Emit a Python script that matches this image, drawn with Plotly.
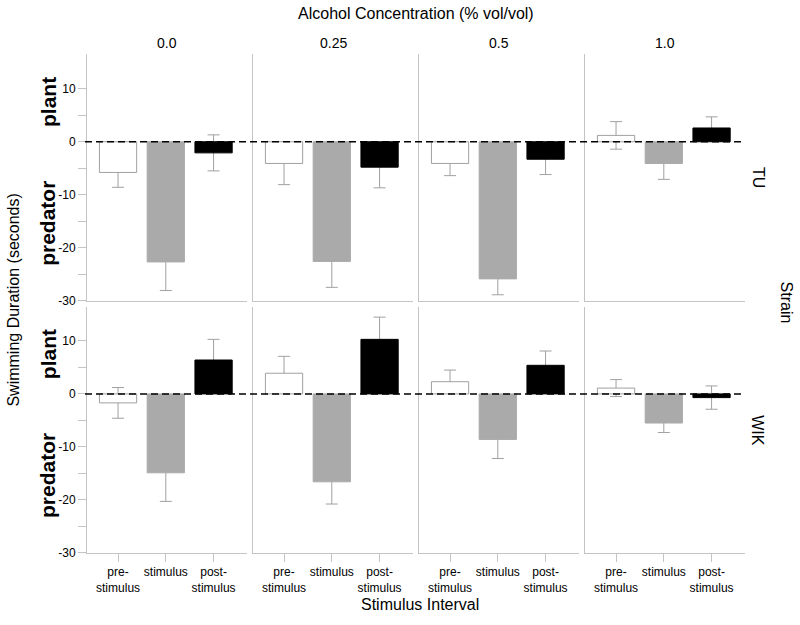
import plotly.graph_objects as go
from plotly.subplots import make_subplots

# ---- data ----
concentrations = ["0.0", "0.25", "0.5", "1.0"]
intervals = ["pre-<br>stimulus", "stimulus", "post-<br>stimulus"]
strains = ["TU", "WIK"]

tu_means = [[-5.8, -22.7, -2.1], [-4.1, -22.6, -4.8], [-4.1, -25.9, -3.3], [1.2, -4.1, 2.6]]
tu_errors = [[2.8, 5.4, 3.4], [4.0, 4.9, 3.9], [2.3, 3.0, 2.9], [2.6, 3.0, 2.1]]
wik_means = [[-1.7, -14.9, 6.4], [3.9, -16.6, 10.3], [2.3, -8.6, 5.4], [1.1, -5.5, -0.7]]
wik_errors = [[2.9, 5.4, 3.9], [3.2, 4.2, 4.2], [2.2, 3.6, 2.7], [1.6, 1.8, 2.2]]

y_tickvals = [10, 5, 0, -5, -10, -15, -20, -25, -30]
y_ticktext = ["10", "", "0", "", "-10", "", "-20", "", "-30"]

means = [tu_means, wik_means]
errors = [tu_errors, wik_errors]

# ---- style ----
W, H = 800, 625
FONT = "Liberation Sans, Arial, Helvetica, sans-serif"
AXIS_GRAY = "#c4c4c4"
ERR_GRAY = "#a0a0a0"
fills = ["white", "#aaaaaa", "black"]
outlines = ["#a0a0a0", "#aaaaaa", "black"]
col_left_px = [87, 253, 419, 585]
panel_w_px = 160
row_px = [(55, 304), (310, 559)]

fig = make_subplots(rows=2, cols=4)
xpos = list(range(len(intervals)))

for r in range(2):
    for c in range(4):
        vals = means[r][c]
        errs = errors[r][c]
        # error bars drawn first so that the opaque bars hide their inner part
        fig.add_trace(go.Bar(
            x=xpos, y=vals, width=0.78,
            marker=dict(color="rgba(0,0,0,0)", line=dict(width=0)),
            error_y=dict(type="data", array=errs, visible=True,
                         color=ERR_GRAY, thickness=1, width=6),
            showlegend=False, hoverinfo="skip"), row=r + 1, col=c + 1)
        fig.add_trace(go.Bar(
            x=xpos, y=vals, width=0.78,
            marker=dict(color=fills, line=dict(color=outlines, width=1)),
            showlegend=False), row=r + 1, col=c + 1)

for r in range(2):
    for c in range(4):
        i = r * 4 + c + 1
        L = col_left_px[c]
        top, bot = row_px[r]
        xa = dict(domain=[L / W, (L + panel_w_px) / W], range=[-0.65, 2.7],
                  showline=True, linecolor=AXIS_GRAY, linewidth=1,
                  showgrid=False, zeroline=False, fixedrange=True)
        if r == 1:
            xa.update(tickmode="array", tickvals=xpos, ticktext=intervals,
                      ticks="outside", ticklen=8, tickcolor=AXIS_GRAY,
                      tickfont=dict(size=12, color="black", family=FONT))
        else:
            xa.update(showticklabels=False, ticks="")
        ya = dict(domain=[1 - bot / H, 1 - top / H], range=[-30, 16.5],
                  showline=True, linecolor=AXIS_GRAY, linewidth=1,
                  showgrid=False, zeroline=False, fixedrange=True)
        if c == 0:
            ya.update(tickmode="array", tickvals=y_tickvals, ticktext=y_ticktext,
                      ticks="outside", ticklen=8, tickcolor=AXIS_GRAY,
                      tickfont=dict(size=12, color="black", family=FONT))
        else:
            ya.update(showticklabels=False, ticks="")
        fig.layout[f"xaxis{i}"].update(xa)
        fig.layout[f"yaxis{i}"].update(ya)

shapes = []
annotations = []
for r in range(2):
    yref = "y" if r == 0 else "y5"
    shapes.append(dict(type="line", xref="paper", yref=yref,
                       x0=85 / W, x1=745 / W, y0=0, y1=0,
                       line=dict(color="black", width=1.5, dash="7px,4px"),
                       layer="above"))
    annotations.append(dict(text="<b>plant</b>", xref="paper", yref=yref,
                            x=48 / W, y=7.5, textangle=-90, showarrow=False,
                            font=dict(size=21, color="black", family=FONT),
                            xanchor="center", yanchor="middle"))
    annotations.append(dict(text="<b>predator</b>", xref="paper", yref=yref,
                            x=48 / W, y=-15.5, textangle=-90, showarrow=False,
                            font=dict(size=21, color="black", family=FONT),
                            xanchor="center", yanchor="middle"))

for c, lab in enumerate(concentrations):
    annotations.append(dict(text=lab, xref="paper", yref="paper",
                            x=(col_left_px[c] + panel_w_px / 2) / W, y=1 - 43 / H,
                            showarrow=False, xanchor="center", yanchor="middle",
                            font=dict(size=14, color="black", family=FONT)))

def txt(text, x, y, angle=0, size=16):
    annotations.append(dict(text=text, xref="paper", yref="paper",
                            x=x / W, y=1 - y / H, textangle=angle,
                            showarrow=False, xanchor="center", yanchor="middle",
                            font=dict(size=size, color="black", family=FONT)))

txt("Alcohol Concentration (% vol/vol)", 416, 14)
txt("Stimulus Interval", 420, 611)
txt("Swimming Duration (seconds)", 14, 304, angle=-90)
txt("Strain", 786, 306, angle=90)
txt(strains[0], 758, 179, angle=90)
txt(strains[1], 758, 435, angle=90)

fig.update_layout(
    width=W, height=H, barmode="overlay",
    margin=dict(l=0, r=0, t=0, b=0),
    paper_bgcolor="white", plot_bgcolor="white",
    font=dict(family=FONT, color="black"),
    shapes=shapes, annotations=annotations, showlegend=False,
)

fig.write_html("out.html", config={"displayModeBar": False},
               post_script="document.body.style.margin='0';document.body.style.padding='0';")
